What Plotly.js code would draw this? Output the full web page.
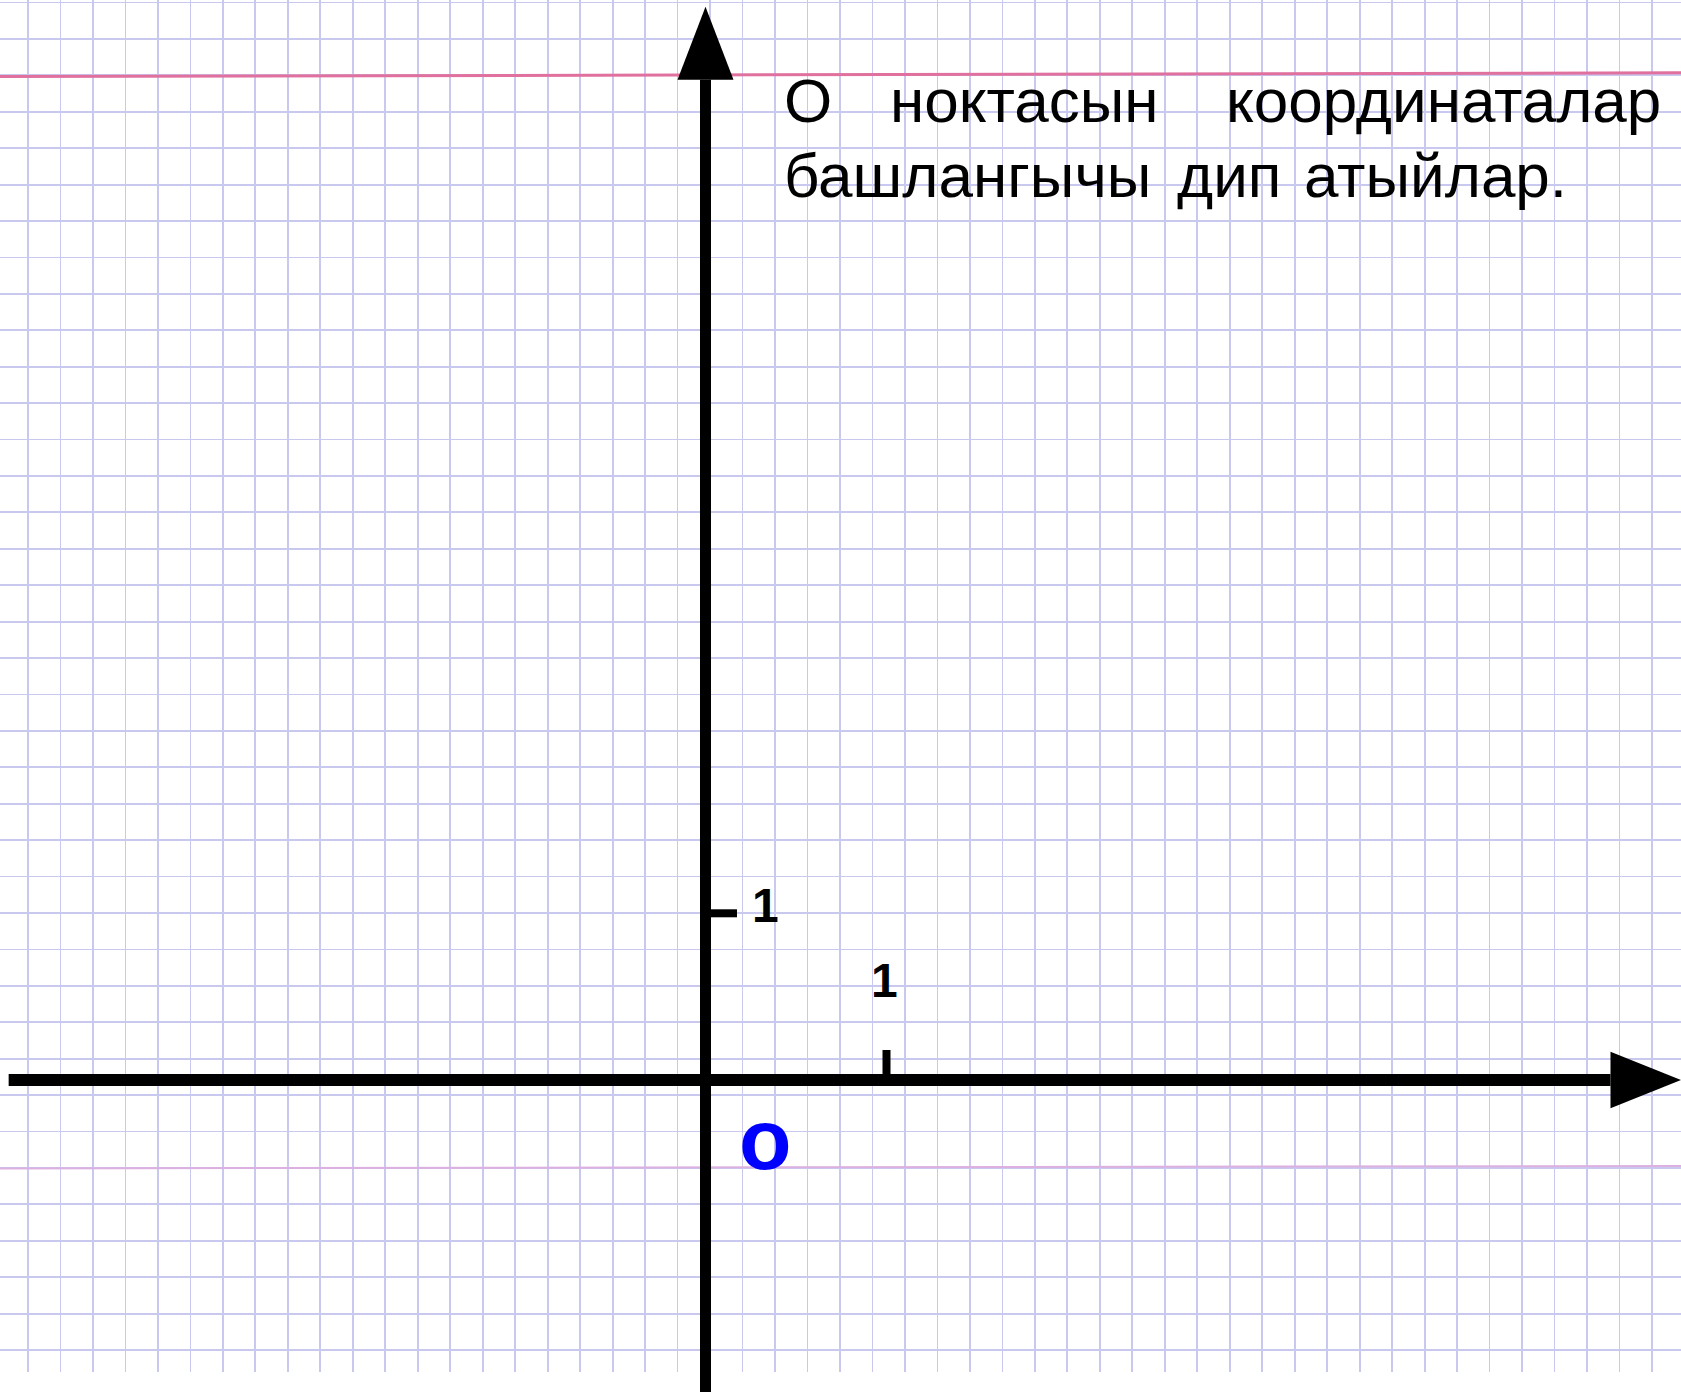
<!DOCTYPE html>
<html>
<head>
<meta charset="utf-8">
<script src="https://cdn.plot.ly/plotly-3.0.1.min.js"></script>
<style>
html, body { margin: 0; padding: 0; background: #ffffff; }
#chart { width: 1681px; height: 1392px; }
</style>
</head>
<body>
<div id="chart"></div>
<script>
// ---------------- data ----------------
const xTickValues = [1];
const yTickValues = [1];
const xTickLabels = ['1'];
const yTickLabels = ['1'];
const originPoint = [0, 0];
const originLabel = 'o';
const xAxisExtent = [-3.85, 5];
const yAxisExtent = [-1.95, 6];
const captionLine1Words = ['О', 'ноктасын', 'координаталар'];
const captionLine2Words = ['башлангычы', 'дип', 'атыйлар.'];

// ---------------- layout constants (pixels) ----------------
const W = 1681, H = 1392;
const OX = 705.5, OY = 1080;      // pixel position of the origin
const UX = 181, UY = 166.7;        // pixels per unit
const FONT = 'Liberation Sans, Arial, Helvetica, sans-serif';
const px2x = p => (p - OX) / UX;
const py2y = p => (OY - p) / UY;

const xRange = [-OX / UX, (W - OX) / UX];
const yRange = [-(H - OY) / UY, OY / UY];

// arrow geometry in data units
const xArrowLen = (W - OX) / UX - xAxisExtent[1];
const xArrowHalf = 28.3 / UY;
const yArrowLen = (OY - 6.7) / UY - yAxisExtent[1];
const yArrowHalf = 28 / UX;

const traces = [];

// invisible trace for the paper (pixel) axes that carry the grid
traces.push({
  x: [0], y: [0], xaxis: 'x2', yaxis: 'y2', mode: 'markers',
  marker: { opacity: 0 }, hoverinfo: 'skip', showlegend: false
});

// x axis line
traces.push({
  x: xAxisExtent, y: [originPoint[1], originPoint[1]], mode: 'lines',
  line: { color: '#000000', width: 12 }, hoverinfo: 'skip', showlegend: false
});
// y axis line
traces.push({
  x: [originPoint[0], originPoint[0]], y: yAxisExtent, mode: 'lines',
  line: { color: '#000000', width: 11 }, hoverinfo: 'skip', showlegend: false
});
// x arrow head
traces.push({
  x: [xAxisExtent[1], xAxisExtent[1] + xArrowLen, xAxisExtent[1], xAxisExtent[1]],
  y: [xArrowHalf, 0, -xArrowHalf, xArrowHalf],
  mode: 'lines', fill: 'toself', fillcolor: '#000000',
  line: { color: '#000000', width: 0 }, hoverinfo: 'skip', showlegend: false
});
// y arrow head
traces.push({
  x: [-yArrowHalf, 0, yArrowHalf, -yArrowHalf],
  y: [yAxisExtent[1], yAxisExtent[1] + yArrowLen, yAxisExtent[1], yAxisExtent[1]],
  mode: 'lines', fill: 'toself', fillcolor: '#000000',
  line: { color: '#000000', width: 0 }, hoverinfo: 'skip', showlegend: false
});
// x unit ticks
xTickValues.forEach(v => {
  traces.push({
    x: [v, v], y: [0.03, 0.18], mode: 'lines',
    line: { color: '#000000', width: 8 }, hoverinfo: 'skip', showlegend: false
  });
});
// y unit ticks
yTickValues.forEach(v => {
  traces.push({
    x: [0.02, 0.174], y: [v, v], mode: 'lines',
    line: { color: '#000000', width: 8 }, hoverinfo: 'skip', showlegend: false
  });
});

const annotations = [];
xTickValues.forEach((v, i) => {
  annotations.push({
    x: v - 0.01, y: 0.594, xref: 'x', yref: 'y', text: xTickLabels[i], showarrow: false,
    xanchor: 'center', yanchor: 'middle',
    font: { family: FONT, size: 48, color: '#000000', weight: 'bold' }
  });
});
yTickValues.forEach((v, i) => {
  annotations.push({
    x: 0.334, y: v + 0.044, xref: 'x', yref: 'y', text: yTickLabels[i], showarrow: false,
    xanchor: 'center', yanchor: 'middle',
    font: { family: FONT, size: 48, color: '#000000', weight: 'bold' }
  });
});
annotations.push({
  x: originPoint[0] + 0.329, y: originPoint[1] - 0.356, xref: 'x', yref: 'y',
  text: originLabel, showarrow: false, xanchor: 'center', yanchor: 'middle',
  font: { family: FONT, size: 86, color: '#0000ff', weight: 'bold' }
});

// caption, word by word (pixel coordinates on the paper axes)
const CAP = 62;
const capFont = { family: FONT, size: CAP, color: '#000000' };
const line1Mid = 122 - 0.3465 * CAP;
const line2Mid = 197 - 0.3465 * CAP;
const line1Anchors = [[782, 'left'], [887.5, 'left'], [1663, 'right']];
const line2Anchors = [[782, 'left'], [1175, 'left'], [1302, 'left']];
captionLine1Words.forEach((w, i) => {
  annotations.push({ x: line1Anchors[i][0], y: line1Mid, xref: 'x2', yref: 'y2', text: w,
    showarrow: false, xanchor: line1Anchors[i][1], yanchor: 'middle', font: capFont });
});
captionLine2Words.forEach((w, i) => {
  annotations.push({ x: line2Anchors[i][0], y: line2Mid, xref: 'x2', yref: 'y2', text: w,
    showarrow: false, xanchor: line2Anchors[i][1], yanchor: 'middle', font: capFont });
});

const shapes = [
  // pink margin lines of the paper
  { type: 'line', xref: 'x', yref: 'y', x0: px2x(0), x1: px2x(W), y0: py2y(76.5), y1: py2y(72.8),
    line: { color: '#e0709e', width: 3 }, layer: 'between' },
  { type: 'line', xref: 'x', yref: 'y', x0: px2x(0), x1: px2x(W), y0: py2y(1168.5), y1: py2y(1166),
    line: { color: '#dcb0e0', width: 2 }, layer: 'between' },
  // blank strip at the bottom of the sheet
  { type: 'rect', xref: 'x', yref: 'y', x0: px2x(-5), x1: px2x(W + 5), y0: py2y(1372), y1: py2y(H + 5),
    fillcolor: '#ffffff', line: { width: 0 }, layer: 'between' }
];

const gridColor = '#c9c9f0';
const layout = {
  width: W, height: H,
  margin: { l: 0, r: 0, t: 0, b: 0, pad: 0 },
  paper_bgcolor: '#ffffff', plot_bgcolor: '#ffffff',
  showlegend: false,
  xaxis: { range: xRange, visible: false, showgrid: false, zeroline: false, fixedrange: true },
  yaxis: { range: yRange, visible: false, showgrid: false, zeroline: false, fixedrange: true },
  xaxis2: { overlaying: 'x', anchor: 'y2', range: [0, W], showgrid: true, gridcolor: gridColor,
    gridwidth: 1.8, tick0: 28, dtick: 32.48, showticklabels: false, ticks: '', zeroline: false,
    showline: false, fixedrange: true },
  yaxis2: { overlaying: 'y', anchor: 'x2', range: [H, 0], showgrid: true, gridcolor: gridColor,
    gridwidth: 1.8, tick0: 2.5, dtick: 36.42, showticklabels: false, ticks: '', zeroline: false,
    showline: false, fixedrange: true },
  annotations: annotations,
  shapes: shapes
};

Plotly.newPlot('chart', traces, layout, { staticPlot: true, displayModeBar: false });
</script>
</body>
</html>
